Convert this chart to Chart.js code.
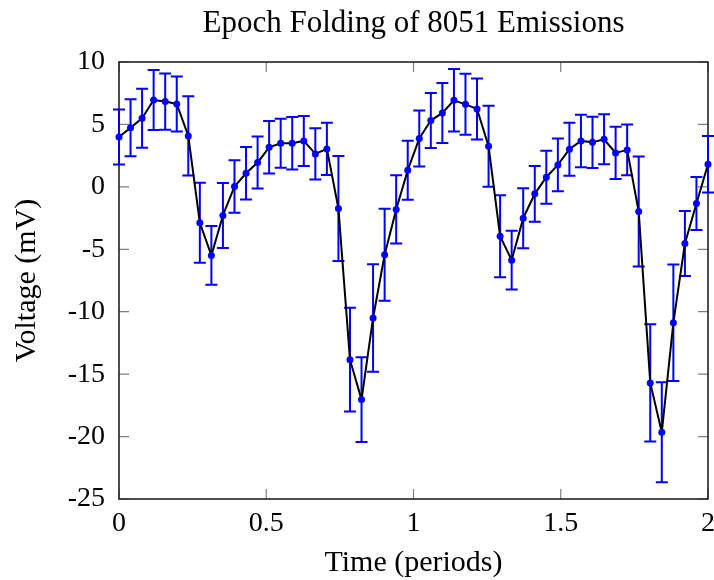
<!DOCTYPE html>
<html>
<head>
<meta charset="utf-8">
<script src="https://cdn.jsdelivr.net/npm/chart.js@4/dist/chart.umd.min.js"></script>
<style>
html,body{margin:0;padding:0;background:#fff;}
#wrap{width:714px;height:580px;}
</style>
</head>
<body>
<div id="wrap"><canvas id="c" width="714" height="580"></canvas></div>
<script>
const phase = [0, 0.0392, 0.0784, 0.1176, 0.1569, 0.1961, 0.2353, 0.2745, 0.3137, 0.3529, 0.3922, 0.4314, 0.4706, 0.5098, 0.5490, 0.5882, 0.6275, 0.6667, 0.7059, 0.7451, 0.7843, 0.8235, 0.8627, 0.9020, 0.9412, 0.9804, 1.0196, 1.0588, 1.0980, 1.1373, 1.1765, 1.2157, 1.2549, 1.2941, 1.3333, 1.3725, 1.4118, 1.4510, 1.4902, 1.5294, 1.5686, 1.6078, 1.6471, 1.6863, 1.7255, 1.7647, 1.8039, 1.8431, 1.8824, 1.9216, 1.9608, 2.0];
const voltage = [4.0, 4.74, 5.49, 6.96, 6.83, 6.64, 4.08, -2.88, -5.49, -2.29, 0.03, 1.09, 1.95, 3.17, 3.49, 3.49, 3.68, 2.64, 3.04, -1.73, -13.84, -17.04, -10.5, -5.44, -1.81, 1.33, 3.87, 5.31, 5.92, 6.93, 6.61, 6.24, 3.25, -3.95, -5.87, -2.51, -0.56, 0.77, 1.76, 3.01, 3.68, 3.57, 3.81, 2.72, 2.96, -1.97, -15.7, -19.65, -10.88, -4.53, -1.33, 1.81];
const voltErr = [2.2, 2.28, 2.36, 2.4, 2.25, 2.2, 3.17, 3.2, 2.35, 2.6, 2.1, 2.1, 2.08, 2.1, 1.96, 2.1, 2.0, 2.05, 2.1, 4.2, 4.15, 3.4, 4.3, 3.68, 2.73, 2.37, 2.24, 2.2, 2.4, 2.5, 2.44, 2.44, 3.24, 3.28, 2.35, 2.4, 2.24, 2.13, 2.12, 2.12, 2.1, 2.05, 2.0, 2.1, 2.04, 4.4, 4.7, 4.0, 4.67, 2.6, 2.12, 2.27];
const xTicks = [0, 0.5, 1, 1.5, 2];
const yTicks = [-25, -20, -15, -10, -5, 0, 5, 10];

const FONT = "'Liberation Serif', 'DejaVu Serif', serif";

const framePlugin = {
  id: 'frameAndErrors',
  beforeDatasetsDraw(chart) {
    const ctx = chart.ctx, a = chart.chartArea;
    const xs = chart.scales.x, ys = chart.scales.y;
    ctx.save();
    ctx.strokeStyle = '#808080';
    ctx.lineWidth = 1.2;
    const tl = 10;
    xTicks.forEach(v => {
      const px = xs.getPixelForValue(v);
      ctx.beginPath();
      ctx.moveTo(px, a.bottom); ctx.lineTo(px, a.bottom - tl);
      ctx.moveTo(px, a.top); ctx.lineTo(px, a.top + tl);
      ctx.stroke();
    });
    yTicks.forEach(v => {
      const py = ys.getPixelForValue(v);
      ctx.beginPath();
      ctx.moveTo(a.left, py); ctx.lineTo(a.left + tl, py);
      ctx.moveTo(a.right, py); ctx.lineTo(a.right - tl, py);
      ctx.stroke();
    });
    ctx.strokeStyle = '#222';
    ctx.lineWidth = 1.6;
    ctx.strokeRect(a.left, a.top, a.right - a.left, a.bottom - a.top);
    ctx.strokeStyle = '#0000ff';
    ctx.lineWidth = 2;
    const cap = 6;
    for (let i = 0; i < phase.length; i++) {
      const px = xs.getPixelForValue(phase[i]);
      const y1 = ys.getPixelForValue(voltage[i] + voltErr[i]);
      const y2 = ys.getPixelForValue(voltage[i] - voltErr[i]);
      ctx.beginPath();
      ctx.moveTo(px, y1); ctx.lineTo(px, y2);
      ctx.moveTo(px - cap, y1); ctx.lineTo(px + cap, y1);
      ctx.moveTo(px - cap, y2); ctx.lineTo(px + cap, y2);
      ctx.stroke();
    }
    ctx.restore();
  }
};

const bgPlugin = {
  id: 'bg',
  beforeDraw(chart) {
    const ctx = chart.ctx;
    ctx.save(); ctx.fillStyle = '#fff'; ctx.fillRect(0, 0, chart.width, chart.height); ctx.restore();
  }
};

new Chart(document.getElementById('c'), {
  type: 'line',
  data: {
    datasets: [{
      data: phase.map((x, i) => ({x: x, y: voltage[i]})),
      borderColor: '#000',
      borderWidth: 2,
      pointBackgroundColor: '#0000ff',
      pointBorderColor: '#0000ff',
      pointRadius: 3.5,
      pointBorderWidth: 0,
      tension: 0,
      clip: false,
      fill: false
    }]
  },
  options: {
    responsive: false,
    animation: false,
    devicePixelRatio: 1,
    layout: { padding: { top: 0, left: 9, right: 6, bottom: 0 } },
    plugins: {
      legend: { display: false },
      tooltip: { enabled: false },
      title: {
        display: true,
        fullSize: false,
        text: 'Epoch Folding of 8051 Emissions',
        color: '#000',
        font: { family: FONT, size: 31, weight: 'normal' },
        padding: { top: 5, bottom: 19.8 }
      }
    },
    scales: {
      x: {
        type: 'linear', min: 0, max: 2,
        afterBuildTicks(s) { s.ticks = xTicks.map(v => ({value: v})); },
        ticks: { color: '#000', font: { family: FONT, size: 28 }, padding: 8, maxRotation: 0,
                 callback: v => String(v) },
        grid: { display: false, drawTicks: false },
        border: { display: false },
        title: { display: true, text: 'Time (periods)', color: '#000', font: { family: FONT, size: 30, lineHeight: 1.1 }, padding: { top: 4, bottom: 0 } },
        afterFit(s) { s.height = 81; s.paddingLeft = 0; s.paddingRight = 0; }
      },
      y: {
        type: 'linear', min: -25, max: 10,
        afterBuildTicks(s) { s.ticks = yTicks.map(v => ({value: v})); },
        ticks: { color: '#000', font: { family: FONT, size: 28 }, padding: 14,
                 callback: v => String(v) },
        grid: { display: false, drawTicks: false },
        border: { display: false },
        title: { display: true, text: 'Voltage (mV)', color: '#000', font: { family: FONT, size: 30 }, padding: { top: 0, bottom: 4 } },
        afterFit(s) { s.width = 110; s.paddingTop = 0; s.paddingBottom = 0; }
      }
    }
  },
  plugins: [bgPlugin, framePlugin]
});
</script>
</body>
</html>
